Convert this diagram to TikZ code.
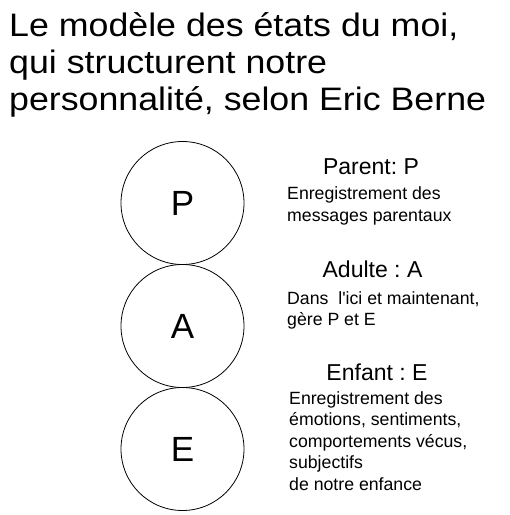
\documentclass[tikz,border=0pt]{standalone}
\usepackage{fontspec}
\setmainfont{Liberation Sans}
\newfontfamily\titrefont[FakeStretch=1.1]{Liberation Sans}
\frenchspacing
\begin{document}
\begin{tikzpicture}[x=1pt,y=-1pt,
    etat/.style={draw,circle,line width=0.8pt,minimum size=123pt,inner sep=0pt,font=\fontsize{35}{40}\selectfont},
    nom/.style={anchor=base,inner sep=0pt,font=\fontsize{23}{26}\selectfont},
    texte/.style={anchor=base west,align=left,inner sep=0pt,font=\fontsize{17.7}{21.5}\selectfont}]
    \useasboundingbox (0,0) rectangle (510,515);
    % base = last line
    \node[anchor=base west,align=left,inner sep=0pt,font=\titrefont\fontsize{32.5}{37}\selectfont] (titre) at (9,110)
      {Le modèle des états du moi,\\qui structurent notre\\personnalité, selon Eric Berne};
    \node[etat] (P) at (182.5,203) {P};
    \node[etat] (A) at (182.5,326) {A};
    \node[etat] (E) at (182.5,449) {E};
    \node[nom] (nomP) at (371,174) {Parent: P};
    \node[texte] (texteP) at (287,221) {Enregistrement des\\messages parentaux};
    \node[nom] (nomA) at (372.5,277.5) {Adulte : A};
    \node[texte] (texteA) at (287,325.5) {Dans\ \ l\textquotesingle ici et maintenant,\\gère P et E};
    \node[nom] (nomE) at (377,380) {Enfant : E};
    \node[texte] (texteE) at (289,490) {Enregistrement des\\émotions, sentiments,\\comportements vécus,\\subjectifs\\de notre enfance};
  \end{tikzpicture}
\end{document}
